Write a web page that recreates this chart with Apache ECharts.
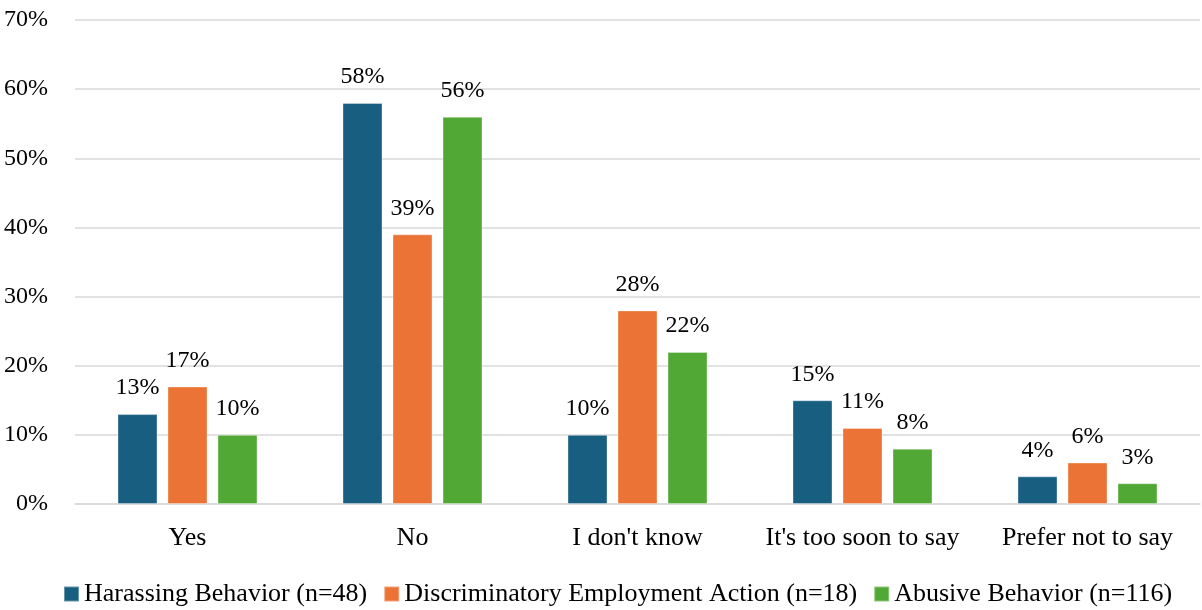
<!DOCTYPE html>
<html><head><meta charset="utf-8">
<script src="https://cdn.jsdelivr.net/npm/echarts@6/dist/echarts.min.js"></script>
<style>html,body{margin:0;padding:0;background:#fff}#c{width:1202px;height:610px}</style>
</head><body><div id="c"></div>
<script>
const categories = ["Yes", "No", "I don't know", "It's too soon to say", "Prefer not to say"];
const seriesNames = ["Harassing Behavior (n=48)", "Discriminatory Employment Action (n=18)", "Abusive Behavior (n=116)"];
const harassing = [13, 58, 10, 15, 4];
const discriminatory = [17, 39, 28, 11, 6];
const abusive = [10, 56, 22, 8, 3];
const colors = ["#175E80", "#EA7335", "#51A834"];
const FONT = "Liberation Serif";
const FS = 24;
const FS_TEXT = 26;
const chart = echarts.init(document.getElementById('c'), null, {renderer: 'canvas'});
const mk = (name, data, i) => ({
  name, type: 'bar', data, barWidth: 40, barGap: '25%',
  itemStyle: {color: colors[i], borderColor: 'rgba(255,255,255,0.35)', borderWidth: 1},
  label: {show: true, position: 'top', distance: 14, formatter: p => p.value + '%', fontFamily: FONT, fontSize: FS, color: '#000'}
});
chart.setOption({
  animation: false,
  grid: {left: 75, right: 2, top: 20, bottom: 106, containLabel: false},
  xAxis: {type: 'category', data: categories, axisLine: {lineStyle: {color: '#d9d9d9', width: 1.5}}, axisTick: {show: false},
    axisLabel: {interval: 0, fontFamily: FONT, fontSize: FS_TEXT, color: '#000', margin: 21}},
  yAxis: {type: 'value', min: 0, max: 70, interval: 10, axisLine: {show: false}, axisTick: {show: false},
    splitLine: {lineStyle: {color: '#d9d9d9', width: 1.5}},
    axisLabel: {formatter: v => v + '%', fontFamily: FONT, fontSize: FS, color: '#000', margin: 27, align: 'right'}},
  legend: {top: 576, left: 58, itemWidth: 15, itemHeight: 15, itemGap: 16, icon: 'rect',
    textStyle: {fontFamily: FONT, fontSize: FS_TEXT, color: '#000', padding: [0, 0, 0, 0]}},
  series: [mk(seriesNames[0], harassing, 0), mk(seriesNames[1], discriminatory, 1), mk(seriesNames[2], abusive, 2)]
});
</script></body></html>
